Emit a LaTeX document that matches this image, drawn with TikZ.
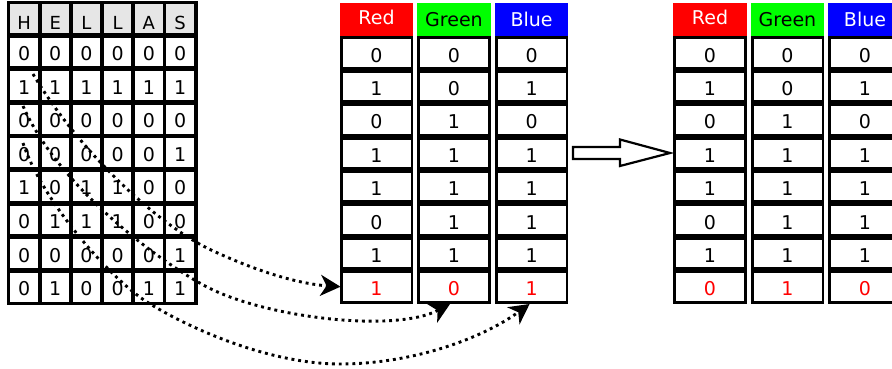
\documentclass[tikz,border=0pt]{standalone}
\usepackage{fontspec}
\setmainfont{DejaVu Sans}
\usetikzlibrary{arrows.meta}
\definecolor{hdrgray}{HTML}{E6E6E6}
\definecolor{purered}{HTML}{FF0000}
\definecolor{puregreen}{HTML}{00FF00}
\definecolor{pureblue}{HTML}{0000FF}
\begin{document}
\begin{tikzpicture}[x=1pt,y=-1pt,
  every node/.style={inner sep=0pt, outer sep=0pt},
  txt/.style={font=\fontsize{19}{22}\selectfont},
  gcell/.style={fill=white, minimum width=27.5pt, minimum height=28.8pt, txt, text height=17pt, text depth=0pt},
  ghead/.style={gcell, fill=hdrgray, font=\fontsize{18}{22}\selectfont, text height=22pt},
  frame/.style={fill=black, minimum width=73.3pt, minimum height=268pt},
  bit/.style={fill=white, minimum width=68pt, minimum height=27.5pt, txt, text height=18pt, text depth=0pt},
  flipped/.style={text=purered},
  head/.style={minimum width=73.3pt, minimum height=32.7pt, txt},
  link/.style={line width=2.9pt, dash pattern=on 2.9pt off 3.9pt,
    -{Stealth[length=20pt,width=21pt,inset=6pt]}},
  hollow/.style={draw=black, line width=2.2pt, fill=white}]

\useasboundingbox (0,0) rectangle (892,369);

% bit grid of the text HELLAS
\node[fill=black, minimum width=190.5pt, minimum height=303pt] (grid) at (102.25,153) {};
\foreach \ch [count=\c from 0] in {H,E,L,L,A,S}
  \node[ghead] (h\c) at (24.05+31.2*\c, 18.4) {\ch};
\foreach \row [count=\r] in {{0,0,0,0,0,0},{1,1,1,1,1,1},{0,0,0,0,0,0},{0,0,0,0,0,1},
                             {1,0,1,1,0,0},{0,1,1,1,0,0},{0,0,0,0,0,1},{0,1,0,0,1,1}}
  \foreach \b [count=\c from 0] in \row
    \node[gcell] (g\r-\c) at (24.05+31.2*\c, 18.4+33.6*\r) {\b};

% colour channel columns, before and after embedding
\foreach \name/\x/\bits/\last in {mr/376.5/{0,1,0,1,1,0,1}/1, mg/454/{0,0,1,1,1,1,1}/0,
                                  mb/531.6/{0,1,0,1,1,1,1}/1, nr/710/{0,1,0,1,1,0,1}/0,
                                  ng/787.5/{0,0,1,1,1,1,1}/1, nb/865/{0,1,0,1,1,1,1}/0}{
  \node[frame] (\name) at (\x,170) {};
  \foreach \b [count=\k] in \bits
    \node[bit] (\name\k) at (\x, 19.65+33.4*\k) {\b};
  \node[bit, flipped] (\name8) at (\x, 286.85) {\last};
}

\node[head, fill=purered, text=white, text height=13.9pt, text depth=5pt] (mrh) at (376.5,19.65) {Red};
\node[head, fill=puregreen, text=black] (mgh) at (454,19.65) {Green};
\node[head, fill=pureblue, text=white] (mbh) at (531.6,19.65) {Blue};
\node[head, fill=purered, text=white, text height=13.9pt, text depth=5pt] (nrh) at (710,19.65) {Red};
\node[head, fill=puregreen, text=black] (ngh) at (787.5,19.65) {Green};
\node[head, fill=pureblue, text=white] (nbh) at (865,19.65) {Blue};

% block arrow between the two tables
\draw[hollow] (573,147) -- (620,147) -- (620,139.5) -- (670,153) -- (620,166)
  -- (620,159) -- (573,159) -- cycle;

% dotted paths carrying the message bits into the last pixel
\coordinate (sA) at (33,74);
\coordinate (sB) at (23,106);
\coordinate (sC) at (23,143);
\draw[link, shorten >=2pt] (sA) .. controls (78,150) and (155,222) .. (207,248)
  .. controls (257,272) and (300,284) .. (mr8.west);
\draw[link] (sB) .. controls (60,190) and (165,265) .. (207,287)
  .. controls (267,318) and (395,333) .. ([xshift=-4pt]mg.south);
\draw[link] (sC) .. controls (43,203) and (112,280) .. (147,302)
  .. controls (190,329) and (270,364) .. (340,364)
  .. controls (410,364) and (480,340) .. ([xshift=-2pt]mb.south);
\end{tikzpicture}
\end{document}
